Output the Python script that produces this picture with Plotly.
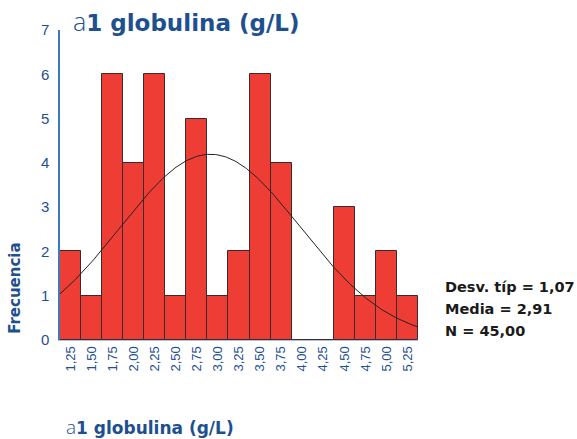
import numpy as np
import plotly.graph_objects as go

# Histogram of alpha-1 globulin values (bin centres and counts)
bin_centres = [1.25, 1.50, 1.75, 2.00, 2.25, 2.50, 2.75, 3.00, 3.25,
               3.50, 3.75, 4.00, 4.25, 4.50, 4.75, 5.00, 5.25]
counts = [2, 1, 6, 4, 6, 1, 5, 1, 2, 6, 4, 0, 0, 3, 1, 2, 1]
tick_labels = ["1,25", "1,50", "1,75", "2,00", "2,25", "2,50", "2,75", "3,00",
               "3,25", "3,50", "3,75", "4,00", "4,25", "4,50", "4,75", "5,00", "5,25"]

# Summary statistics of the sample
std_dev = 1.07
mean = 2.91
n_obs = 45.00
bin_width = 0.25


def es_num(v):
    return f"{v:.2f}".replace(".", ",")


stat_lines = [
    "Desv. típ = " + es_num(std_dev),
    "Media = " + es_num(mean),
    "N = " + es_num(n_obs),
]

BLUE = "#1d4f91"
RED = "#ee3d35"
NARROW = "Liberation Sans Narrow, Arial Narrow, sans-serif"
BOLD = "DejaVu Sans, sans-serif"
THIN = "Open Sans, sans-serif"

x_lo = bin_centres[0] - bin_width / 2
x_hi = bin_centres[-1] + bin_width / 2

# Fitted normal curve scaled to the histogram counts
xs = np.linspace(x_lo, x_hi, 300)
ys = n_obs * bin_width / (std_dev * np.sqrt(2 * np.pi)) * np.exp(-0.5 * ((xs - mean) / std_dev) ** 2)

fig = go.Figure()
fig.add_trace(go.Bar(
    x=bin_centres, y=counts, width=bin_width,
    marker=dict(color=RED, line=dict(color="#3a2a2a", width=1)),
    hoverinfo="x+y",
))
fig.add_trace(go.Scatter(
    x=xs, y=ys, mode="lines",
    line=dict(color="#222222", width=1),
    hoverinfo="skip",
))


def title_text(size):
    return (f"<span style='font-family:{THIN};font-weight:300;font-size:{size + 2}px'>a</span>"
            "<b>1 globulina (g/L)</b>")


annotations = [
    dict(text=title_text(23),
         xref="paper", yref="paper", x=0.03, y=1.0, xanchor="left", yanchor="bottom",
         showarrow=False, yshift=-10,
         font=dict(family=BOLD, size=23, color=BLUE)),
    dict(text=title_text(17),
         xref="paper", yref="paper", x=0.011, y=0, xanchor="left", yanchor="middle",
         showarrow=False, yshift=-87,
         font=dict(family=BOLD, size=17, color=BLUE)),
    dict(text="<b>Frecuencia</b>", textangle=-90,
         xref="paper", yref="paper", x=0, y=0.165, xanchor="center", yanchor="middle",
         showarrow=False, xshift=-45,
         font=dict(family=BOLD, size=15, color=BLUE)),
]
for i, line in enumerate(stat_lines):
    annotations.append(dict(
        text=f"<b>{line}</b>", xref="paper", yref="paper", x=1, y=0,
        xanchor="left", yanchor="middle", align="left", showarrow=False,
        xshift=25, yshift=53 - 22 * i,
        font=dict(family=BOLD, size=14.5, color="#1a1a1a"),
    ))

fig.update_layout(
    width=577, height=439,
    margin=dict(l=60, r=159, t=30, b=99),
    paper_bgcolor="white", plot_bgcolor="white",
    showlegend=False, bargap=0,
    xaxis=dict(
        range=[x_lo, x_hi], tickmode="array", tickvals=bin_centres, ticktext=tick_labels,
        tickangle=-90, showgrid=False, zeroline=False, showline=True,
        linecolor="#a9c4e4", linewidth=1, ticks="",
        tickfont=dict(family=NARROW, size=13, color=BLUE),
    ),
    yaxis=dict(
        range=[0, 7], tickvals=list(range(8)), showgrid=False, zeroline=False,
        showline=True, linecolor="#3d78c0", linewidth=1.5, ticks="",
        ticklabelstandoff=6,
        tickfont=dict(family=NARROW, size=15, color=BLUE),
    ),
    annotations=annotations,
)

fig.write_html("out.html")
